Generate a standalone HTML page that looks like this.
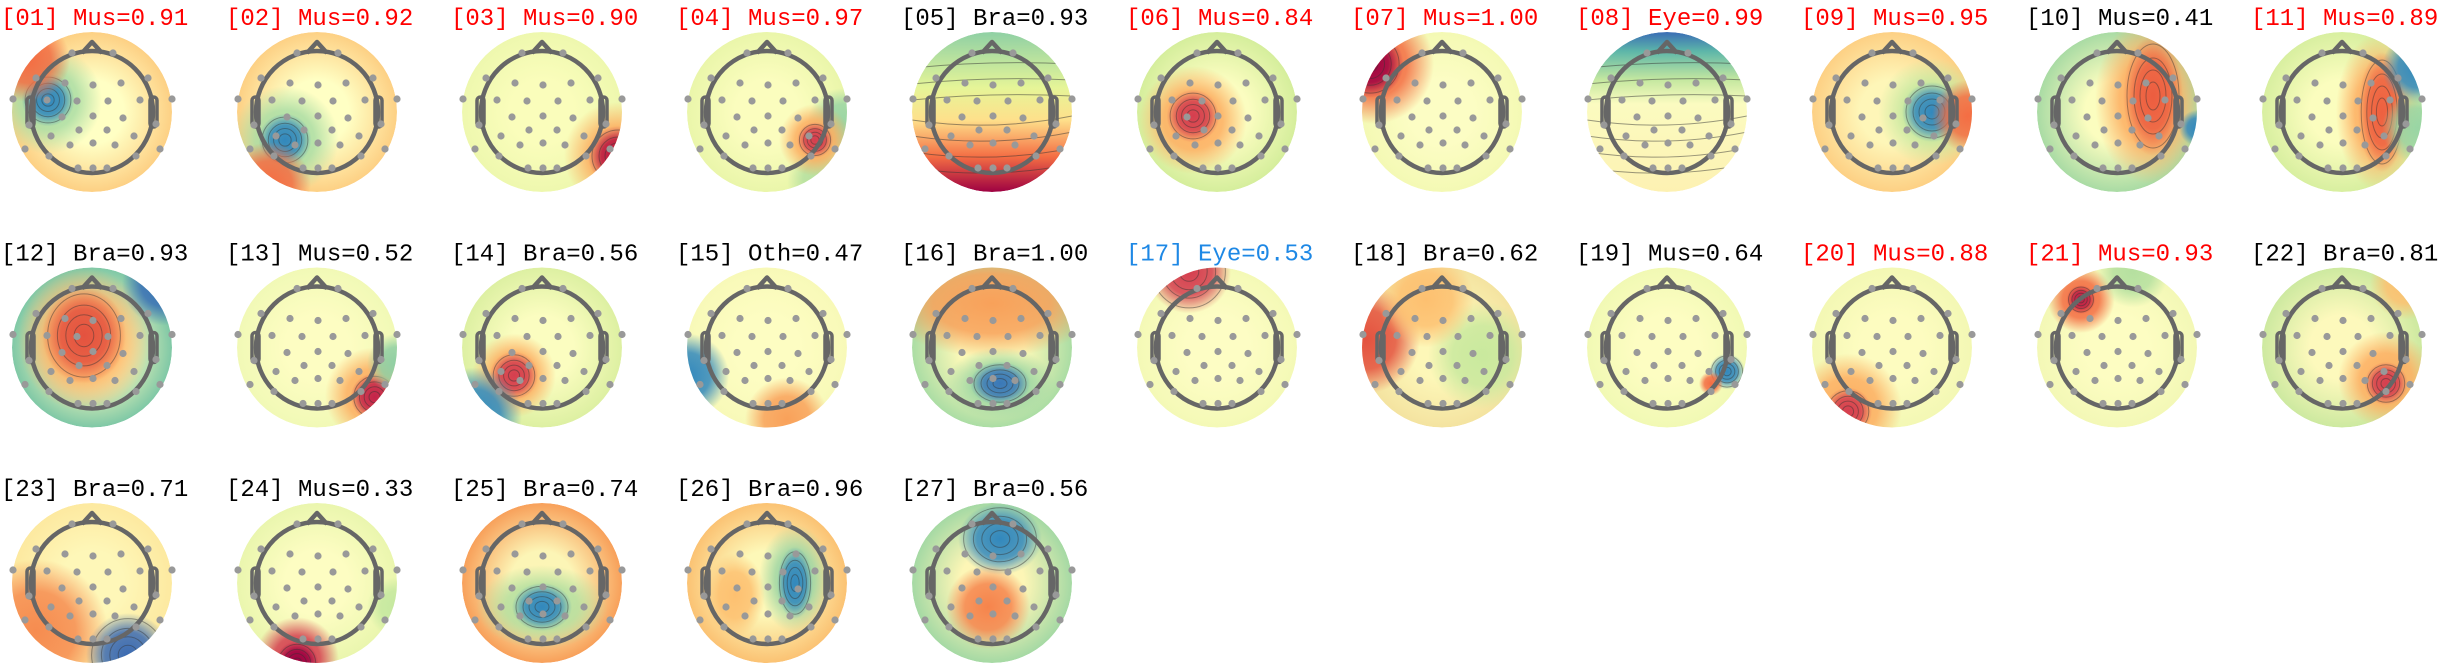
<!DOCTYPE html>
<html><head><meta charset="utf-8">
<style>
html,body{margin:0;padding:0;background:#fff;width:2438px;height:667px;overflow:hidden}
svg{display:block}
</style></head>
<body>
<svg id="s" xmlns="http://www.w3.org/2000/svg" width="2438" height="667" viewBox="0 0 2438 667"><defs id="d"></defs></svg>
<script>
const R=80;
const T=[
["[01] Mus=0.91","#f00",{b:['#ffffc4','#fdd084']},[[-0.55,-0.15,0.45,0.45,'#abdda4'],[-0.55,-0.15,0.22,0.22,'#3288bd',1],[-0.8,-0.65,0.35,0.35,'#f46d43']]],
["[02] Mus=0.92","#f00",{b:['#ffffc4','#fdd084']},[[-0.4,0.35,0.45,0.45,'#abdda4'],[-0.4,0.35,0.22,0.22,'#3288bd',1],[-0.6,0.9,0.35,0.35,'#f46d43']]],
["[03] Mus=0.90","#f00",{b:['#fafdbb','#eef8ae']},[[0.95,0.55,0.45,0.45,'#fdae61'],[0.95,0.55,0.25,0.25,'#b8123f',1]]],
["[04] Mus=0.97","#f00",{b:['#fbfdbe','#eaf6aa']},[[0.95,0.15,0.3,0.3,'#99d5a4'],[0.7,0.85,0.3,0.3,'#b5e0a0'],[0.6,0.35,0.3,0.3,'#fdae61'],[0.6,0.35,0.15,0.15,'#d53e4f',1]]],
["[05] Bra=0.93","#000",{l:[['#8fd0a4',0],['#e6f598',.35],['#fee08b',.55],['#f46d43',.78],['#9e0142',1]]},[]],
["[06] Mus=0.84","#f00",{b:['#fbfdc0','#d5ee9c']},[[-0.3,0.1,0.45,0.45,'#fdae61'],[-0.3,0.05,0.22,0.22,'#d53e4f',1]]],
["[07] Mus=1.00","#f00",{b:['#fcfdc4','#f4f9b4']},[[-0.85,-0.6,0.5,0.5,'#f46d43'],[-0.9,-0.6,0.28,0.28,'#9e0142',1]]],
["[08] Eye=0.99","#f00",{l:[['#3a6db5',0],['#5db6a9',.12],['#c5e8a0',.3],['#fbfbc0',.45],['#fdf1b2',1]]},[]],
["[09] Mus=0.95","#f00",{b:['#fef6b8','#fdd084']},[[0.5,0,0.45,0.45,'#c5e89f'],[0.5,0,0.25,0.25,'#3288bd',1],[0.95,0.05,0.3,0.3,'#f46d43']]],
["[10] Mus=0.41","#000",{b:['#fbfdbf','#a9dba4']},[[0.4,-0.15,0.45,0.7,'#fdae61'],[0.45,-0.2,0.25,0.5,'#ec5d40',1],[1.0,0.2,0.15,0.15,'#3288bd']]],
["[11] Mus=0.89","#f00",{b:['#fbfdbe','#d8efa0']},[[0.45,0,0.35,0.65,'#fdae61'],[0.5,0,0.2,0.5,'#ee6040',1],[0.95,-0.55,0.3,0.3,'#3288bd'],[0.95,0.2,0.3,0.3,'#99d5a4']]],
["[12] Bra=0.93","#000",{b:['#fdfcbe','#7fc8a6']},[[-0.1,-0.1,0.55,0.6,'#fdae61'],[-0.1,-0.15,0.35,0.4,'#e4523f',1],[0.9,-0.8,0.35,0.35,'#3a70b6']]],
["[13] Mus=0.52","#000",{b:['#fdfdc2','#f1f9b6']},[[0.7,0.6,0.4,0.4,'#fdae61'],[0.72,0.62,0.2,0.2,'#c4244a',1],[1.0,0.2,0.25,0.25,'#8fcfa4']]],
["[14] Bra=0.56","#000",{b:['#fbfdc0','#ddf0a2']},[[-0.35,0.35,0.35,0.35,'#fdae61'],[-0.35,0.35,0.2,0.2,'#d53e4f',1],[-0.85,0.85,0.4,0.4,'#3288bd']]],
["[15] Oth=0.47","#000",{b:['#fdfdc2','#f8f9b8']},[[-1,0.35,0.35,0.35,'#3288bd'],[0.25,0.9,0.35,0.35,'#f9a15a']]],
["[16] Bra=1.00","#000",{b:['#fcf9b8','#abdda4']},[[0,-0.55,0.9,0.45,'#f8a15a'],[0.1,0.45,0.45,0.3,'#9ed7a4'],[0.1,0.45,0.25,0.18,'#3a78b8',1]]],
["[17] Eye=0.53","#1e88e5",{b:['#fdfdc4','#f4f9b6']},[[-0.35,-0.95,0.35,0.35,'#d53e4f',1]]],
["[18] Bra=0.62","#000",{b:['#fdf7b8','#f4e3a0']},[[-0.95,-0.1,0.45,0.45,'#e4523f'],[0.5,0.1,0.45,0.45,'#c9e99e'],[-0.2,-0.6,0.4,0.4,'#fdc070']]],
["[19] Mus=0.64","#000",{b:['#fdfdc2','#f1f9b4']},[[0.75,0.3,0.15,0.15,'#3288bd',1],[0.55,0.45,0.1,0.1,'#f46d43']]],
["[20] Mus=0.88","#f00",{b:['#fdfcc0','#f3f8b4']},[[-0.55,0.75,0.45,0.45,'#fdae61'],[-0.55,0.8,0.2,0.2,'#d53e4f',1]]],
["[21] Mus=0.93","#f00",{b:['#fdfdc2','#f3f8b6']},[[-0.45,-0.6,0.28,0.28,'#f46d43'],[-0.45,-0.6,0.12,0.12,'#c02047',1],[0.2,-0.95,0.3,0.3,'#b5e0a0']]],
["[22] Bra=0.81","#000",{b:['#fdf9bc','#cde9a0']},[[0.55,0.4,0.4,0.4,'#fdae61'],[0.55,0.45,0.18,0.18,'#d53e4f',1],[0.8,-0.8,0.3,0.3,'#fdc070']]],
["[23] Bra=0.71","#000",{b:['#fef7b8','#fde9a0']},[[-0.7,0.6,0.6,0.6,'#f68c50'],[0.45,0.9,0.35,0.35,'#3b6bb3',1]]],
["[24] Mus=0.33","#000",{b:['#fdfdc2','#eaf6ae']},[[-0.25,0.95,0.35,0.35,'#d53e4f'],[-0.25,1.0,0.18,0.18,'#9e0142',1],[1,0.3,0.25,0.25,'#c5e8a0']]],
["[25] Bra=0.74","#000",{b:['#fcf5b6','#f8a05a']},[[0,0.3,0.55,0.35,'#b5e0a0'],[0,0.3,0.25,0.2,'#3288bd',1]]],
["[26] Bra=0.96","#000",{b:['#fdf8b8','#fbc273']},[[0.35,-0.05,0.3,0.45,'#9fd6a4'],[0.35,0,0.15,0.3,'#3288bd',1],[-0.4,0.15,0.25,0.35,'#fdc070']]],
["[27] Bra=0.56","#000",{b:['#fdf6b6','#a5d9a4']},[[0.1,-0.55,0.35,0.3,'#3288bd',1],[-0.05,0.3,0.35,0.35,'#f6844c']]]
];
const E=[[-20,-59],[21,-59],[-56,-34],[-27,-29],[1,-27],[29,-29],[56,-34],[-79,-13],[-45,-12],[-15,-11],[16,-11],[48,-12],[80,-13],[-63,13],[-30,5],[1,4],[31,6],[64,12],[-41,24],[-13,18],[15,18],[42,24],[-67,37],[-43,44],[-22,33],[1,31],[23,33],[44,44],[68,37],[-14,56],[1,56],[15,56]];
const svg=document.getElementById('s'),defs=document.getElementById('d');
const made={};
function gid(c){const id='g'+c.slice(1);if(!made[id]){made[id]=1;defs.insertAdjacentHTML('beforeend',`<radialGradient id="${id}"><stop offset="0" stop-color="${c}" stop-opacity="1"/><stop offset="0.55" stop-color="${c}" stop-opacity="0.85"/><stop offset="1" stop-color="${c}" stop-opacity="0"/></radialGradient>`);}return id;}
let h='';
T.forEach((t,i)=>{
 const col=i<11?i:(i<22?i-11:i-22), row=i<11?0:(i<22?1:2);
 const cx=92+col*225, cy=112+row*235.5;
 let bid='bg'+i;
 if(t[2].b) defs.insertAdjacentHTML('beforeend',`<radialGradient id="${bid}"><stop offset="0.4" stop-color="${t[2].b[0]}"/><stop offset="1" stop-color="${t[2].b[1]}"/></radialGradient>`);
 else defs.insertAdjacentHTML('beforeend',`<linearGradient id="${bid}" x1="0" y1="0" x2="0" y2="1">${t[2].l.map(s=>`<stop offset="${s[1]}" stop-color="${s[0]}"/>`).join('')}</linearGradient>`);
 defs.insertAdjacentHTML('beforeend',`<clipPath id="c${i}"><circle cx="0" cy="0" r="${R}"/></clipPath>`);
 h+=`<text x="${cx-91}" y="${cy-87}" font-family="Liberation Mono, monospace" font-size="24" fill="${t[1]}">${t[0]}</text>`;
 h+=`<g transform="translate(${cx},${cy})"><g clip-path="url(#c${i})"><circle r="${R}" fill="url(#${bid})"/>`;
 if(t[2].l){[-0.55,-0.35,-0.15,0.1,0.3,0.5,0.7].forEach(y=>{h+=`<path d="M-80 ${y*R} Q0 ${y*R+(y>0?12:-8)} 80 ${y*R-4}" fill="none" stroke="#333" stroke-opacity="0.5" stroke-width="1"/>`;});}
 t[3].forEach(b=>{
  const x=b[0]*R,y=b[1]*R,rx=b[2]*R,ry=b[3]*R;
  h+=`<ellipse cx="${x}" cy="${y}" rx="${rx*1.5}" ry="${ry*1.5}" fill="url(#${gid(b[4])})"/>`;
  if(b[5]){[0.35,0.65,0.95,1.3].forEach(k=>{h+=`<ellipse cx="${x}" cy="${y}" rx="${rx*k}" ry="${ry*k}" fill="none" stroke="#333" stroke-opacity="0.45" stroke-width="1"/>`;});}
 });
 h+=`</g><circle r="61" fill="none" stroke="#666" stroke-width="4.5"/>`;
 h+=`<polyline points="-10,-59 0,-70 10,-59" fill="none" stroke="#666" stroke-width="4.5" stroke-linejoin="round"/>`;
 h+=`<rect x="-65" y="-15" width="7" height="30" rx="3.5" fill="none" stroke="#666" stroke-width="3.5"/><rect x="58" y="-15" width="7" height="30" rx="3.5" fill="none" stroke="#666" stroke-width="3.5"/>`;
 E.forEach(e=>{h+=`<circle cx="${e[0]}" cy="${e[1]}" r="3.6" fill="#999"/>`;});
 h+=`</g>`;
});
svg.insertAdjacentHTML('beforeend',h);
</script>
</body></html>
